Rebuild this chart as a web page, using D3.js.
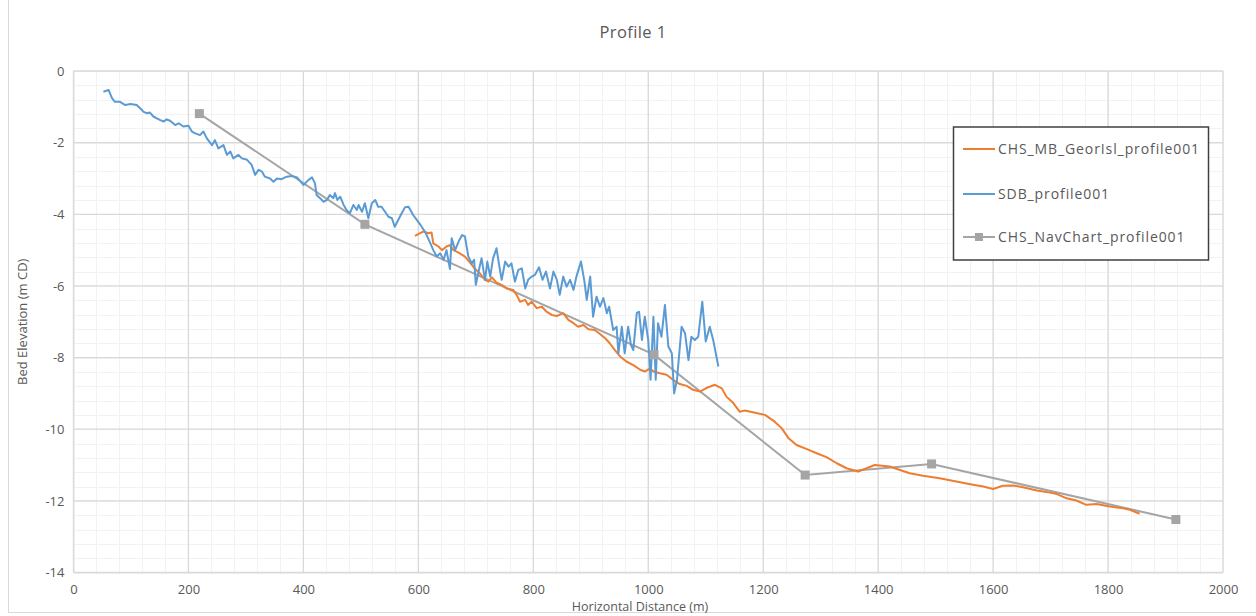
<!DOCTYPE html>
<html>
<head>
<meta charset="utf-8">
<script src="https://cdn.jsdelivr.net/npm/d3@7"></script>
<style>
  html, body { margin: 0; padding: 0; background: #fff; }
  svg { display: block; font-family: "Open Sans", "Liberation Sans", sans-serif; }
</style>
</head>
<body>
<svg id="chart" width="1256" height="616"></svg>
<script>
// Horizontal distance (m) and bed elevation (m CD) for each survey along profile 1
const sdbProfile = [
  [52,-0.58],[61,-0.53],[67,-0.76],[72,-0.86],[81,-0.86],[90,-0.95],[99,-0.92],[110,-0.95],
  [116,-1.04],[122,-1.14],[128,-1.18],[133,-1.16],[139,-1.27],[145,-1.32],[151,-1.37],[157,-1.41],
  [162,-1.35],[168,-1.39],[177,-1.51],[183,-1.46],[191,-1.55],[200,-1.53],[206,-1.69],[212,-1.74],
  [220,-1.79],[226,-1.69],[232,-1.88],[241,-2.07],[246,-1.93],[252,-2.16],[261,-2.07],[267,-2.34],
  [273,-2.25],[278,-2.44],[287,-2.34],[293,-2.44],[302,-2.48],[310,-2.62],[316,-2.90],[322,-2.76],
  [328,-2.81],[333,-2.95],[342,-3.00],[348,-3.09],[354,-3.00],[362,-3.02],[371,-2.95],[380,-2.93],
  [389,-2.97],[400,-3.18],[409,-3.04],[415,-2.97],[420,-3.13],[423,-3.46],[429,-3.55],[435,-3.65],
  [441,-3.60],[446,-3.46],[452,-3.55],[455,-3.41],[459,-3.60],[464,-3.51],[470,-3.74],[475,-3.88],
  [481,-3.97],[487,-3.74],[493,-3.88],[496,-3.74],[502,-3.93],[507,-3.69],[513,-4.11],[519,-3.69],
  [525,-3.60],[530,-3.79],[536,-3.79],[542,-3.93],[548,-4.07],[554,-4.11],[559,-4.35],[565,-4.16],
  [571,-3.97],[577,-3.80],[583,-3.79],[591,-4.02],[603,-4.28],[612,-4.50],[621,-4.81],[626,-5.00],
  [632,-5.18],[638,-5.09],[644,-5.27],[649,-5.00],[655,-5.53],[658,-4.67],[664,-5.00],[670,-4.76],
  [676,-4.58],[681,-4.62],[687,-5.18],[693,-5.37],[697,-5.27],[700,-5.97],[706,-5.51],[710,-5.23],
  [716,-5.83],[720,-5.32],[725,-5.74],[730,-5.23],[736,-4.95],[741,-5.46],[745,-5.83],[751,-5.32],
  [757,-5.46],[762,-5.37],[768,-5.88],[774,-5.55],[780,-5.51],[786,-6.07],[791,-5.83],[797,-5.74],
  [803,-5.69],[810,-5.48],[816,-5.83],[822,-5.60],[829,-6.07],[835,-5.60],[841,-5.83],[846,-6.25],
  [852,-5.74],[858,-6.02],[864,-5.83],[870,-6.11],[875,-5.74],[883,-5.32],[889,-5.88],[893,-6.39],
  [899,-5.74],[904,-6.86],[910,-6.30],[916,-6.58],[922,-6.34],[928,-6.76],[932,-6.58],[939,-7.23],
  [945,-7.14],[948,-7.88],[954,-7.14],[959,-7.88],[965,-7.14],[970,-7.65],[974,-7.79],[980,-6.76],
  [984,-6.72],[989,-7.51],[994,-6.86],[1000,-7.51],[1004,-8.62],[1009,-6.86],[1013,-8.62],[1017,-7.04],
  [1023,-7.42],[1029,-6.53],[1035,-7.69],[1041,-7.88],[1045,-9.00],[1050,-8.62],[1058,-7.14],[1064,-7.32],
  [1070,-8.07],[1075,-7.42],[1081,-7.51],[1087,-7.42],[1094,-6.44],[1100,-7.55],[1107,-7.14],[1113,-7.51],
  [1122,-8.25]
];

const mbProfile = [
  [594,-4.60],[609,-4.48],[617,-4.53],[623,-4.51],[626,-4.81],[635,-4.90],[641,-5.00],[649,-4.90],
  [655,-4.86],[661,-5.00],[670,-5.07],[681,-5.18],[690,-5.35],[699,-5.53],[707,-5.65],[716,-5.83],
  [722,-5.88],[728,-5.76],[736,-5.91],[745,-5.97],[754,-6.07],[765,-6.11],[771,-6.25],[777,-6.44],
  [786,-6.39],[791,-6.53],[797,-6.44],[806,-6.62],[815,-6.58],[823,-6.72],[832,-6.81],[841,-6.84],
  [852,-6.76],[861,-6.95],[870,-7.04],[878,-7.14],[887,-7.09],[896,-7.21],[907,-7.23],[916,-7.34],
  [925,-7.46],[933,-7.60],[942,-7.79],[951,-7.97],[962,-8.11],[974,-8.21],[986,-8.34],[994,-8.39],
  [1003,-8.30],[1009,-8.39],[1020,-8.44],[1032,-8.48],[1043,-8.62],[1055,-8.74],[1067,-8.79],[1078,-8.90],
  [1090,-8.95],[1101,-8.85],[1116,-8.76],[1128,-8.86],[1136,-9.09],[1148,-9.27],[1159,-9.51],[1168,-9.48],
  [1188,-9.55],[1203,-9.60],[1220,-9.79],[1232,-9.97],[1244,-10.25],[1258,-10.44],[1275,-10.55],[1293,-10.67],
  [1310,-10.78],[1328,-10.95],[1345,-11.09],[1365,-11.18],[1380,-11.09],[1394,-11.00],[1420,-11.04],[1438,-11.14],
  [1455,-11.23],[1478,-11.30],[1507,-11.37],[1536,-11.46],[1565,-11.55],[1583,-11.60],[1600,-11.67],[1617,-11.58],
  [1635,-11.57],[1652,-11.62],[1676,-11.71],[1699,-11.77],[1711,-11.81],[1728,-11.93],[1745,-11.99],[1762,-12.11],
  [1780,-12.09],[1803,-12.16],[1826,-12.21],[1838,-12.25],[1855,-12.36]
];

const navChart = [
  [219,-1.19],[507,-4.28],[1010,-7.92],[1273,-11.28],[1493,-10.97],[1918,-12.52]
];

const seriesNames = ["CHS_MB_GeorIsl_profile001", "SDB_profile001", "CHS_NavChart_profile001"];
const seriesColors = ["#ed7d31", "#5b9bd5", "#a5a5a5"];

const xTicks = d3.range(0, 2001, 200);
const yTicks = d3.range(0, -14.01, -2);
const xMinor = d3.range(0, 2001, 40);
const yMinor = d3.range(0, -14.01, -0.4);

const svg = d3.select("#chart");
const W = 1256, H = 616;
const plot = { left: 73.5, right: 1223, top: 71, bottom: 572.5 };

const x = d3.scaleLinear().domain([0, 2000]).range([plot.left, plot.right]);
const y = d3.scaleLinear().domain([0, -14]).range([plot.top, plot.bottom]);

const textColor = "#595959";

// outer chart frame
svg.append("path")
  .attr("d", `M8.5,-2 V612.5 H${W + 2}`)
  .attr("fill", "none").attr("stroke", "#d9d9d9").attr("stroke-width", 1);

// minor gridlines
const g = svg.append("g");
g.selectAll("line.vminor").data(xMinor).join("line")
  .attr("x1", d => Math.round(x(d)) + 0.5).attr("x2", d => Math.round(x(d)) + 0.5)
  .attr("y1", plot.top).attr("y2", plot.bottom)
  .attr("stroke", "#f2f2f2").attr("stroke-width", 1);
g.selectAll("line.hminor").data(yMinor).join("line")
  .attr("y1", d => Math.round(y(d)) + 0.5).attr("y2", d => Math.round(y(d)) + 0.5)
  .attr("x1", plot.left).attr("x2", plot.right)
  .attr("stroke", "#f2f2f2").attr("stroke-width", 1);

// major gridlines
g.selectAll("line.vmajor").data(xTicks).join("line")
  .attr("x1", d => x(d)).attr("x2", d => x(d))
  .attr("y1", plot.top).attr("y2", plot.bottom)
  .attr("stroke", "#d9d9d9").attr("stroke-width", 1.3);
g.selectAll("line.hmajor").data(yTicks).join("line")
  .attr("y1", d => y(d)).attr("y2", d => y(d))
  .attr("x1", plot.left).attr("x2", plot.right)
  .attr("stroke", "#d9d9d9").attr("stroke-width", 1.3);

// axes (labels only, lines come from the gridlines)
const xAxis = d3.axisBottom(x).tickValues(xTicks).tickSize(0).tickPadding(12).tickFormat(d => String(d));
const yAxis = d3.axisLeft(y).tickValues(yTicks).tickSize(0).tickPadding(9).tickFormat(d => String(d));

const gx = svg.append("g").attr("transform", `translate(0,${plot.bottom})`).call(xAxis);
const gy = svg.append("g").attr("transform", `translate(${plot.left},0)`).call(yAxis);
[gx, gy].forEach(a => {
  a.select(".domain").remove();
  a.selectAll("text").attr("fill", textColor).style("font-size", "13px")
    .style("font-family", "'Open Sans', sans-serif");
});

// series lines
const line = d3.line().x(d => x(d[0])).y(d => y(d[1]));

svg.append("path").datum(navChart)
  .attr("d", line).attr("fill", "none")
  .attr("stroke", seriesColors[2]).attr("stroke-width", 2);

svg.append("path").datum(mbProfile)
  .attr("d", line).attr("fill", "none")
  .attr("stroke", seriesColors[0]).attr("stroke-width", 2).attr("stroke-linejoin", "round");

svg.append("path").datum(sdbProfile)
  .attr("d", line).attr("fill", "none")
  .attr("stroke", seriesColors[1]).attr("stroke-width", 2).attr("stroke-linejoin", "round");

// nav chart markers
svg.selectAll("rect.marker").data(navChart).join("rect")
  .attr("class", "marker")
  .attr("x", d => x(d[0]) - 4.5).attr("y", d => y(d[1]) - 4.5)
  .attr("width", 9).attr("height", 9)
  .attr("fill", seriesColors[2]);

// title
svg.append("text")
  .attr("x", 633).attr("y", 38)
  .attr("text-anchor", "middle")
  .attr("fill", textColor)
  .style("font-size", "16.5px")
  .style("letter-spacing", "0.4px")
  .text("Profile 1");

// axis titles
svg.append("text")
  .attr("x", 640).attr("y", 611)
  .attr("text-anchor", "middle")
  .attr("fill", textColor)
  .style("font-size", "12.5px")
  .text("Horizontal Distance (m)");

svg.append("text")
  .attr("transform", `translate(27,${(plot.top + plot.bottom) / 2}) rotate(-90)`)
  .attr("text-anchor", "middle")
  .attr("fill", textColor)
  .style("font-size", "13px")
  .text("Bed Elevation (m CD)");

// legend
const legend = svg.append("g");
legend.append("rect")
  .attr("x", 953.5).attr("y", 127).attr("width", 255).attr("height", 133)
  .attr("fill", "#fff").attr("stroke", "#404040").attr("stroke-width", 1.5);

const legendRows = [149, 194, 237];
seriesNames.forEach((name, i) => {
  const row = legend.append("g").attr("transform", `translate(0,${legendRows[i]})`);
  row.append("line")
    .attr("x1", 963).attr("x2", 995).attr("y1", 0).attr("y2", 0)
    .attr("stroke", seriesColors[i]).attr("stroke-width", 2);
  if (i === 2) {
    row.append("rect").attr("x", 975).attr("y", -4).attr("width", 8).attr("height", 8)
      .attr("fill", seriesColors[i]);
  }
  row.append("text")
    .attr("x", 998).attr("y", 0).attr("dy", "0.35em")
    .attr("fill", textColor)
    .style("font-size", "14px")
    .style("letter-spacing", "0.9px")
    .text(name);
});
</script>
</body>
</html>
